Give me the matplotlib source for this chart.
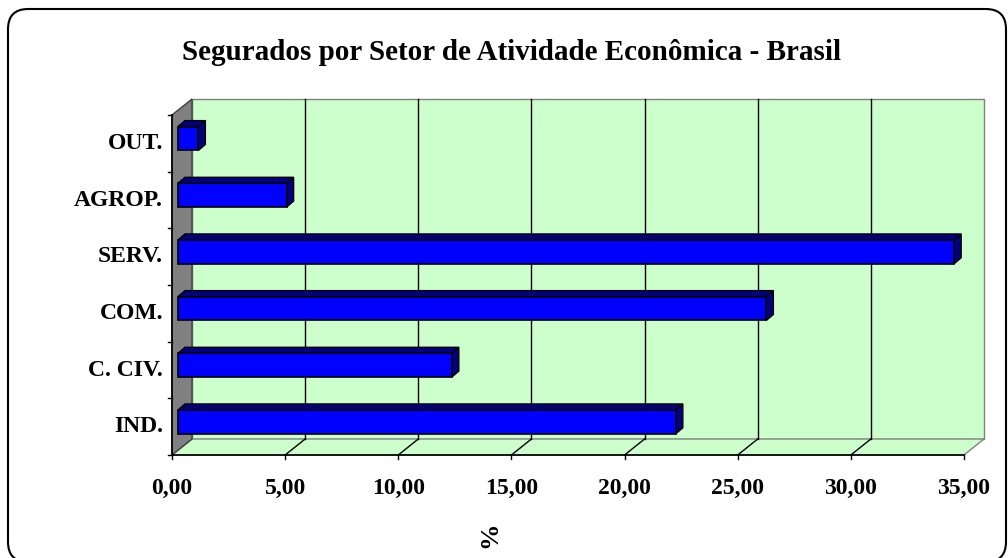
import matplotlib
matplotlib.use("Agg")
import matplotlib.pyplot as plt
from matplotlib.patches import Rectangle, Polygon, FancyBboxPatch

# data
categories = ["IND.", "C. CIV.", "COM.", "SERV.", "AGROP.", "OUT."]
values = [22.0, 12.1, 26.0, 34.3, 4.8, 0.9]
x_ticks = [0, 5, 10, 15, 20, 25, 30, 35]
x_ticklabels = ["0,00", "5,00", "10,00", "15,00", "20,00", "25,00", "30,00", "35,00"]
title = "Segurados por Setor de Atividade Econômica - Brasil"

W, H = 1008, 558
GREEN = "#CCFFCC"
GRAY = "#808080"
FONT = "Liberation Serif"

fig = plt.figure(figsize=(W / 100, H / 100), dpi=100)

# rounded chart border
border = FancyBboxPatch((8 / W, 1 - 562 / H), 998 / W, 553 / H,
                        boxstyle="round,pad=0,rounding_size=0.02",
                        transform=fig.transFigure, fill=False,
                        edgecolor="black", linewidth=1.5, mutation_aspect=W / H)
fig.patches.append(border)

# axes = back wall of the 3d plot area
left, right, top, bottom = 192, 984, 99, 439
ax = fig.add_axes([left / W, 1 - bottom / H, (right - left) / W, (bottom - top) / H])
ax.set_xlim(0, 35)
ax.set_ylim(-0.5, len(categories) - 0.5)
ax.axis("off")

# pixel -> data deltas
sx = 35 / (right - left)
sy = len(categories) / (bottom - top)
DX, DY = -20 * sx, -16 * sy          # full depth, back wall -> front edge
y0, y1 = -0.5, len(categories) - 0.5

def d(f):
    return DX * f, DY * f

fx, fy = d(1.0)

# back wall
ax.add_patch(Rectangle((0, y0), 35, y1 - y0, facecolor=GREEN, edgecolor=GRAY,
                       linewidth=1, clip_on=False, zorder=1))
# floor
ax.add_patch(Polygon([(0, y0), (35, y0), (35 + fx, y0 + fy), (0 + fx, y0 + fy)],
                     closed=True, facecolor=GREEN, edgecolor=GRAY, linewidth=1,
                     clip_on=False, zorder=1))
# side wall
ax.add_patch(Polygon([(0, y0), (0, y1), (fx, y1 + fy), (fx, y0 + fy)],
                     closed=True, facecolor=GRAY, edgecolor="#404040", linewidth=1,
                     clip_on=False, zorder=2))

# gridlines on wall and floor
for t in x_ticks[1:-1]:
    ax.plot([t, t], [y0, y1], color="black", lw=1, clip_on=False, zorder=2)
    ax.plot([t, t + fx], [y0, y0 + fy], color="black", lw=1, clip_on=False, zorder=2)

# front axes lines and ticks
ax.plot([fx, 35 + fx], [y0 + fy, y0 + fy], color="black", lw=1.2, clip_on=False, zorder=3)
ax.plot([fx, fx], [y0 + fy, y1 + fy], color="black", lw=1.2, clip_on=False, zorder=3)
for t, lab in zip(x_ticks, x_ticklabels):
    ax.plot([t + fx, t + fx], [y0 + fy, y0 + fy - 4 * sy], color="black", lw=1,
            clip_on=False, zorder=3)
    ax.text(t + fx, y0 + fy - 33 * sy, lab, ha="center", va="center",
            fontsize=17, fontweight="bold", family=FONT, clip_on=False)
for k in range(len(categories) + 1):
    yy = y0 + k + fy
    ax.plot([fx, fx - 4 * sx], [yy, yy], color="black", lw=1, clip_on=False, zorder=3)

for i, lab in enumerate(categories):
    ax.text(fx - 9 * sx, i + fy, lab, ha="right", va="center",
            fontsize=17, fontweight="bold", family=FONT, clip_on=False)

# 3d bars
bh = 0.42
bx, by = d(0.7)      # front face of bars
tx, ty = 7 * sx, 6 * sy   # depth of bars
for i, v in enumerate(values):
    yb = i - bh / 2 + by
    yt = i + bh / 2 + by
    xl, xr = bx, v + bx
    ax.add_patch(Polygon([(xl, yt), (xr, yt), (xr + tx, yt + ty), (xl + tx, yt + ty)],
                         closed=True, facecolor="#000080", edgecolor="black", lw=1,
                         clip_on=False, zorder=4))
    ax.add_patch(Polygon([(xr, yb), (xr + tx, yb + ty), (xr + tx, yt + ty), (xr, yt)],
                         closed=True, facecolor="#000080", edgecolor="black", lw=1,
                         clip_on=False, zorder=4))
    ax.add_patch(Rectangle((xl, yb), v, bh, facecolor="#0000FF", edgecolor="black",
                           lw=1.2, clip_on=False, zorder=5))

fig.text(512 / W, 1 - 52 / H, title, ha="center", va="center",
         fontsize=21, fontweight="bold", family=FONT)
fig.text(490 / W, 1 - 535 / H, "%", ha="center", va="center", rotation=90,
         fontsize=19, fontweight="bold", family=FONT)

fig.savefig("out.png", dpi=100)
